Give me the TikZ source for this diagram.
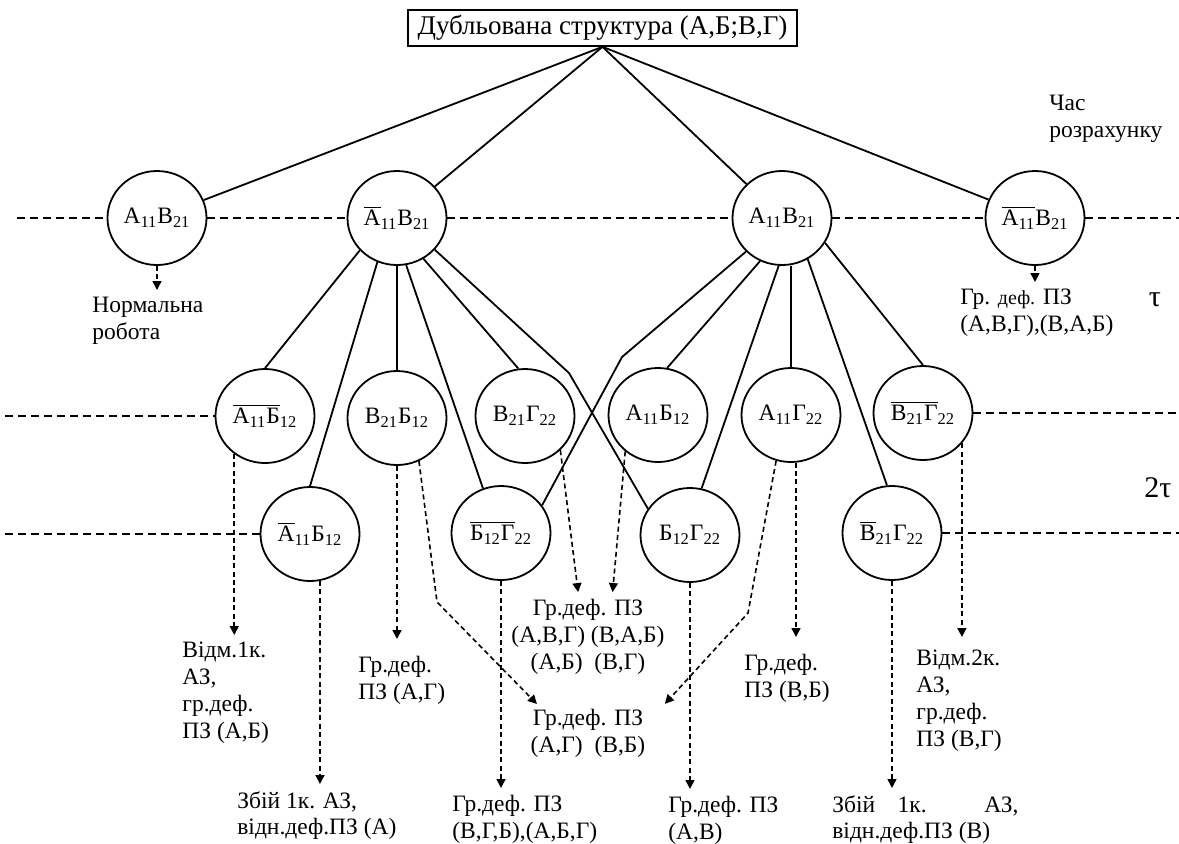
\documentclass[tikz,border=0pt]{standalone}
\usepackage{fontspec}
\setmainfont{Liberation Serif}
\usepackage{tikz}
\usetikzlibrary{shapes.geometric, arrows.meta}
\newcommand{\ix}[1]{\textsubscript{#1}}
\newcommand{\negd}[1]{$\overline{\mbox{#1}}$}
\tikzstyle{event} = [ellipse, draw, line width=0.9pt, fill=white, minimum width=49.5pt, minimum height=47pt, inner sep=0pt]
\tikzstyle{link} = [line width=0.9pt]
\tikzstyle{timeline} = [line width=0.8pt, dash pattern=on 4pt off 2.5pt]
\tikzstyle{arrow} = [line width=0.8pt, dash pattern=on 2.5pt off 1.7pt, -{Triangle[length=4.5pt,width=4.5pt]}, shorten >=3.5pt]
\tikzstyle{note} = [align=left, inner sep=0pt, anchor=north west]

\begin{document}
\begin{tikzpicture}[x=0.5pt, y=-0.5pt, font=\fontsize{11.75pt}{13.35pt}\selectfont]
\useasboundingbox (0,0) rectangle (1179,843);

\node[draw, line width=0.8pt, minimum width=194.5pt, minimum height=18pt, inner sep=0pt, font=\fontsize{13.5pt}{15pt}\selectfont] (root) at (602.5,28) {Дубльована структура (А,Б;В,Г)};

\node[event] (normal) at (157,218) {А\ix{11}В\ix{21}};
\node[event] (faila) at (397,218) {\negd{А}\ix{11}В\ix{21}};
\node[event] (healthy) at (782,218) {А\ix{11}В\ix{21}};
\node[event] (failall) at (1035,218) {\negd{А\ix{11}}В\ix{21}};

\node[event] (failab) at (265,416) {\negd{А\ix{11}Б}\ix{12}};
\node[event] (vb) at (397,418) {В\ix{21}Б\ix{12}};
\node[event] (vg) at (525,416) {В\ix{21}Г\ix{22}};
\node[event] (ab) at (658,415) {А\ix{11}Б\ix{12}};
\node[event] (ag) at (791,415) {А\ix{11}Г\ix{22}};
\node[event] (failvg) at (923,413) {\negd{В\ix{21}Г}\ix{22}};

\node[event] (failaonly) at (310,534) {\negd{А}\ix{11}Б\ix{12}};
\node[event] (failbg) at (501,533) {\negd{Б\ix{12}Г}\ix{22}};
\node[event] (bg) at (690,535) {Б\ix{12}Г\ix{22}};
\node[event] (failvonly) at (892,533) {\negd{В}\ix{21}Г\ix{22}};

\coordinate (leftone) at (17,218);
\coordinate (rightone) at (1179,218);
\coordinate (lefttwo) at (5,416);
\coordinate (righttwo) at (1179,413);
\coordinate (leftthree) at (5,534);
\coordinate (rightthree) at (1179,533);
\coordinate (bendbc) at (569,373);
\coordinate (bendce) at (622,357);
\coordinate (kinkag) at (437,602);
\coordinate (kinkvb) at (748,613);

\node[note] (calctime) at (1049,95) {Час\\розрахунку};
\node[font=\fontsize{15pt}{17pt}\selectfont] (tau) at (1155,300) {τ};
\node[font=\fontsize{15pt}{17pt}\selectfont] (twotau) at (1158,488) {2τ};

\node[note] (normalwork) at (92,297) {Нормальна\\робота};
\node[note] (groupdef) at (960,289) {Гр. {\fontsize{10pt}{12pt}\selectfont деф.} ПЗ\\(А,В,Г),(В,А,Б)};
\node[note] (refusalone) at (182,642) {Відм.1к.\\АЗ,\\гр.деф.\\ПЗ (А,Б)};
\node[note] (crashone) at (237,791) {Збій 1к. АЗ,\\відн.деф.ПЗ (А)};
\node[note] (groupag) at (358,656) {Гр.деф.\\ПЗ (А,Г)};
\node[note, align=center, anchor=north] (groupmidtwo) at (588,709) {Гр.деф. ПЗ\\(А,Г)\enspace(В,Б)};
\node[note] (groupthree) at (452,795) {Гр.деф. ПЗ\\(В,Г,Б),(А,Б,Г)};
\node[note, align=center, anchor=north] (groupbgab) at (588,599) {Гр.деф. ПЗ\\(А,В,Г) (В,А,Б)\\(А,Б)\enspace(В,Г)};
\node[note] (groupav) at (668,796) {Гр.деф. ПЗ\\(А,В)};
\node[note] (groupvb) at (744,654) {Гр.деф.\\ПЗ (В,Б)};
\node[note] (crashtwo) at (832,795) {\makebox[93pt][s]{Збій 1к. АЗ,}\\відн.деф.ПЗ (В)};
\node[note] (refusaltwo) at (916,650) {Відм.2к.\\АЗ,\\гр.деф.\\ПЗ (В,Г)};

\draw[link] (root.south) -- (normal);
\draw[link] (root.south) -- (faila);
\draw[link] (root.south) -- (healthy);
\draw[link] (root.south) -- (failall);

\draw[link] (faila.221) -- (failab.north);
\draw[link] (faila.246) -- (failaonly.north);
\draw[link] (faila) -- (vb);
\draw[link] (faila.281) -- (failbg.112);
\draw[link] (faila.303) -- (vg.98);
\draw[link] (faila.320) -- (bendbc) -- (bg.148);

\draw[link] (healthy.223) -- (bendce) -- (failbg.34);
\draw[link] (healthy.243) -- (ab.79);
\draw[link] (healthy.266) -- (bg.76);
\draw[link] (ag.north |- healthy.south) -- (ag.north);
\draw[link] (healthy.302) -- (failvonly.96);
\draw[link] (healthy.330) -- (failvg.north);

\draw[timeline] (leftone) -- (normal.west);
\draw[timeline] (normal.east) -- (faila.west);
\draw[timeline] (faila.east) -- (healthy.west);
\draw[timeline] (healthy.east) -- (failall.west);
\draw[timeline] (failall.east) -- (rightone);
\draw[timeline] (lefttwo) -- (failab.west);
\draw[timeline] (failvg.east) -- (righttwo);
\draw[timeline] (leftthree) -- (failaonly.west);
\draw[timeline] (failvonly.east) -- (rightthree);

\draw[arrow] (normal.south) -- (normal.south |- normalwork.north);
\draw[arrow] (failall.south) -- (failall.south |- groupdef.north);
\draw[arrow] (failab.231) -- (failab.231 |- refusalone.north);
\draw[arrow] (failaonly.282) -- (failaonly.282 |- crashone.north);
\draw[arrow, shorten >=8.5pt] (vb.south) -- (vb.south |- groupag.north);
\draw[arrow] (vb.297) -- (kinkag) -- ([xshift=5.75pt]groupmidtwo.north west);
\draw[arrow] (failbg.south) -- (failbg.south |- groupthree.north);
\draw[arrow] (vg.316) -- ([xshift=-4.5pt]groupbgab.north);
\draw[arrow] (ab.228) -- ([xshift=12pt]groupbgab.north);
\draw[arrow] (bg.south) -- (bg.south |- groupav.north);
\draw[arrow, shorten >=8.5pt] (ag.276) -- (ag.276 |- groupvb.north);
\draw[arrow] (ag.252) -- (kinkvb) -- ([xshift=7.25pt]groupmidtwo.north east);
\draw[arrow] (failvonly.south) -- (failvonly.south |- crashtwo.north);
\draw[arrow, shorten >=6.5pt] (failvg.322) -- (failvg.322 |- refusaltwo.north);
\end{tikzpicture}
\end{document}
